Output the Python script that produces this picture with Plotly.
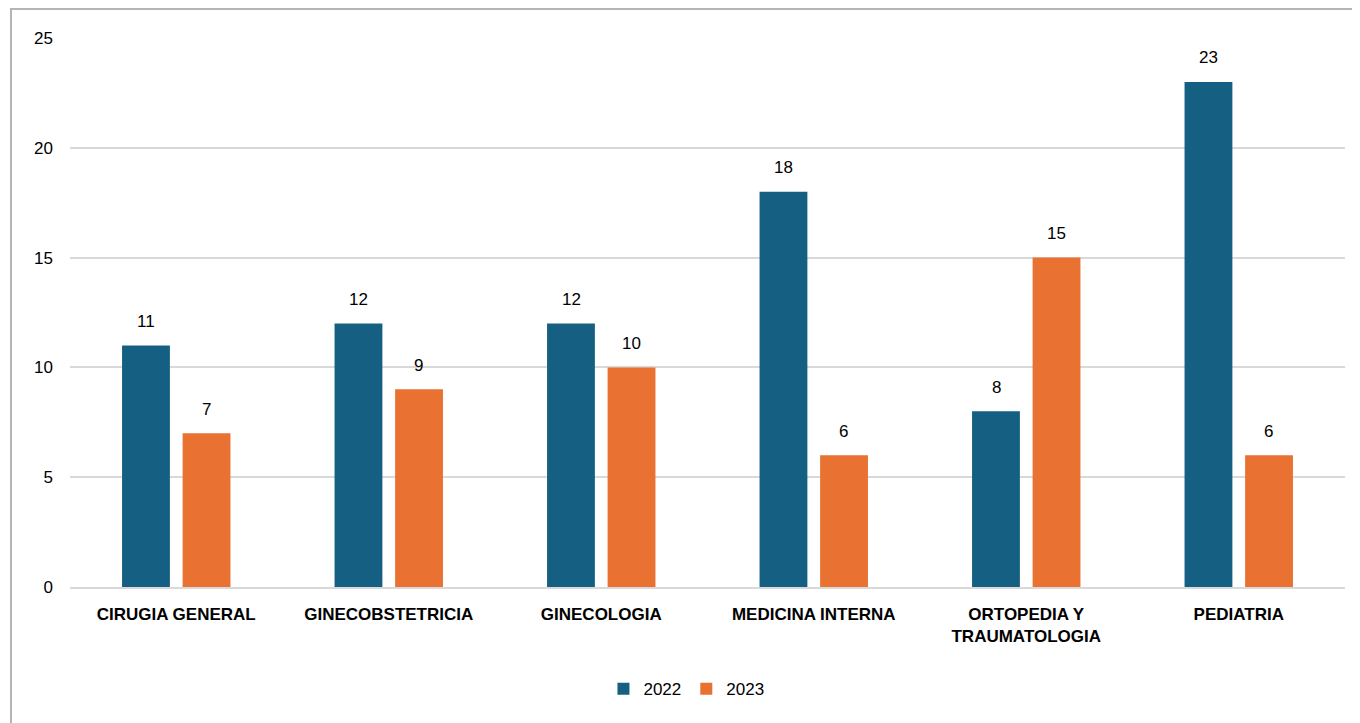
import plotly.graph_objects as go

categories = ["CIRUGIA GENERAL", "GINECOBSTETRICIA", "GINECOLOGIA", "MEDICINA INTERNA",
              "ORTOPEDIA Y<br>TRAUMATOLOGIA", "PEDIATRIA"]
values_2022 = [11, 12, 12, 18, 8, 23]
values_2023 = [7, 9, 10, 6, 15, 6]
series_names = ["2022", "2023"]
colors = ["#156082", "#E97132"]

fig = go.Figure()
for name, vals, col in zip(series_names, [values_2022, values_2023], colors):
    fig.add_trace(go.Bar(name=name, x=categories, y=vals, marker_color=col,
                         marker_line_width=0, hoverinfo="x+y"))

annotations = []
for vals, shift in zip([values_2022, values_2023], [-30, 30]):
    for c, v in zip(categories, vals):
        annotations.append(dict(x=c, y=v, xref="x", yref="y", text=str(v), showarrow=False,
                                xshift=shift, yshift=24, yanchor="middle",
                                font=dict(family="Liberation Sans, Arial", size=17, color="#000")))

fig.update_layout(
    width=1352, height=715,
    margin=dict(l=62, r=15, t=30, b=136),
    paper_bgcolor="white", plot_bgcolor="white",
    barmode="group", bargap=0.43, bargroupgap=0.21,
    font=dict(family="Liberation Sans, Arial", color="#000"),
    annotations=annotations,
    showlegend=True,
    legend=dict(orientation="h", x=0.4835, xanchor="center", y=-0.186, yanchor="middle",
                font=dict(size=17, color="#000"), itemwidth=30, traceorder="normal"),
    shapes=[dict(type="rect", xref="paper", yref="paper", x0=-0.0463, y0=-0.5, x1=1.5, y1=1.0528,
                 line=dict(color="#b4b4b4", width=2), fillcolor="rgba(0,0,0,0)", layer="below")],
)
fig.update_yaxes(range=[0, 25], dtick=5, showgrid=True, gridcolor="#d9d9d9", gridwidth=1.5,
                 zeroline=False, showline=False, ticks="", ticklabelstandoff=16,
                 tickfont=dict(size=17, color="#000"))
fig.update_xaxes(showline=True, linecolor="#d9d9d9", linewidth=1.5, ticks="",
                 tickfont=dict(size=17, color="#000", family="Liberation Sans, Arial"),
                 tickprefix="<b>", ticksuffix="</b>", ticklabelstandoff=11)

fig.write_html("out.html")
